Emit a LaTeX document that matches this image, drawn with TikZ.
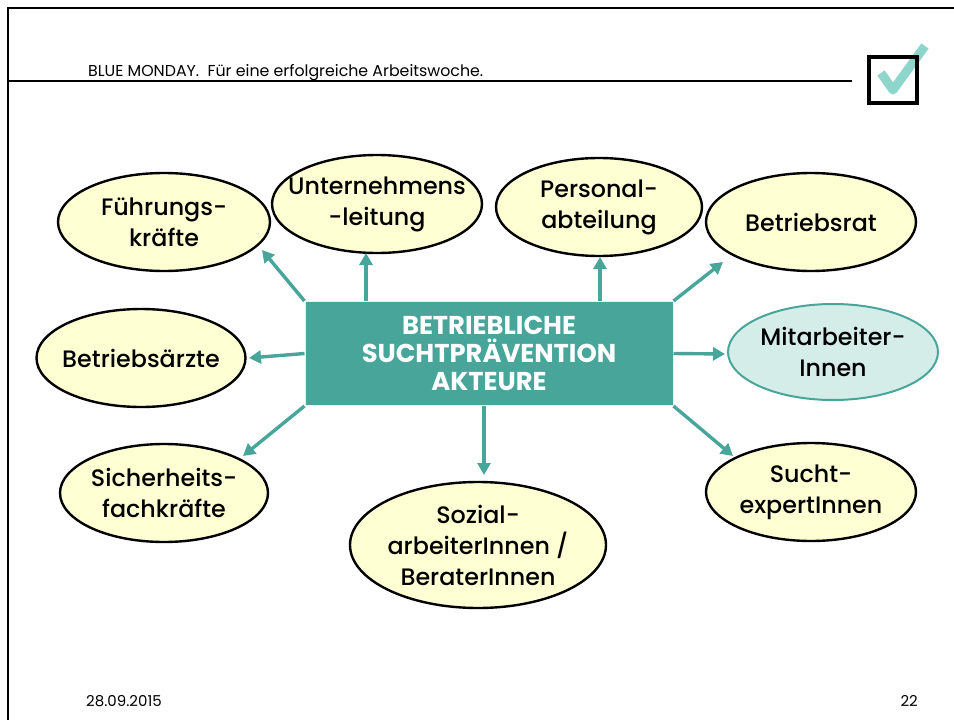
\documentclass[tikz,border=0pt]{standalone}
\usepackage{fontspec}
\setmainfont{Poppins}
\newfontfamily\medfont{Poppins Medium}
\usetikzlibrary{arrows.meta,shapes.geometric}
\definecolor{tealA}{HTML}{48A59A}
\definecolor{ellfill}{HTML}{FFFFD4}
\definecolor{mitfill}{HTML}{D4EDE9}
\definecolor{checkc}{HTML}{8ED5CB}
\tikzset{
  actor/.style={ellipse, draw=black, line width=2.4pt, fill=ellfill, inner sep=0pt},
  actortext/.style={inner sep=0pt, align=center, font=\medfont\fontsize{23.8}{31}\selectfont},
  arr/.style={draw=tealA, line width=3.4pt, -{Triangle[length=12pt,width=13pt]}},
  frameline/.style={draw=black, line width=2pt}
}
\begin{document}
\begin{tikzpicture}[x=1pt,y=-1pt]
\useasboundingbox (0,0) rectangle (954,720);
% frame
\draw[frameline] (8,720) -- (8,8) -- (954,8);
\draw[draw=black, line width=1.5pt] (8,81) -- (852,81);
\node[anchor=base west, inner sep=0pt, font=\fontsize{15.8}{18}\selectfont] (hdr) at (88,76) {BLUE MONDAY.\ \ Für eine erfolgreiche Arbeitswoche.};
% checkbox
\draw[checkc, line width=9pt, line join=round] (881,73) -- (893,90) -- (925,46);
\node[draw=black, line width=4pt, minimum width=48pt, minimum height=46pt, inner sep=0pt] (chk) at (893,80) {};
% footer
\node[anchor=base west, inner sep=0pt, font=\fontsize{15}{16}\selectfont] (date) at (86,706) {28.09.2015};
\node[anchor=base east, inner sep=0pt, font=\fontsize{15}{16}\selectfont] (page) at (918,706) {22};
% central box
\node[fill=tealA, draw=white!85!tealA, line width=1pt, minimum width=368pt, minimum height=104pt,
  inner sep=0pt, align=center, text=white, font=\bfseries\fontsize{25.8}{28}\selectfont] (box) at (489,353.5)
  {BETRIEBLICHE\\SUCHTPRÄVENTION\\AKTEURE};
% actors
\node[actor, minimum width=212pt, minimum height=98pt] (fk) at (164,222) {};
\node[actor, minimum width=210pt, minimum height=98pt] (ul) at (377,204) {};
\node[actor, minimum width=206pt, minimum height=98pt] (pa) at (599,207) {};
\node[actor, minimum width=210pt, minimum height=98pt] (br) at (811,222) {};
\node[actor, minimum width=209pt, minimum height=98pt] (ba) at (141,358) {};
\node[actor, draw=tealA, line width=2pt, fill=mitfill, minimum width=210pt, minimum height=96pt] (ma) at (833,352) {};
\node[actor, minimum width=208pt, minimum height=98pt] (sf) at (164,493) {};
\node[actor, minimum width=256pt, minimum height=126pt] (sa) at (478,545) {};
\node[actor, minimum width=210pt, minimum height=98pt] (se) at (811,492) {};
% actor texts
\node[actortext] (fk-t) at (fk) {Führungs-\\kräfte};
\node[actortext] (ul-t) at (ul) {Unternehmens\\-leitung};
\node[actortext] (pa-t) at (pa) {Personal-\\abteilung};
\node[actortext] (br-t) at (br) {Betriebsrat};
\node[actortext] (ba-t) at (ba) {Betriebsärzte};
\node[actortext] (ma-t) at (ma) {Mitarbeiter-\\Innen};
\node[actortext] (sf-t) at (sf) {Sicherheits-\\fachkräfte};
\node[actortext] (sa-t) at (sa) {Sozial-\\arbeiterInnen /\\BeraterInnen};
\node[actortext] (se-t) at (se) {Sucht-\\expertInnen};
% arrow tips
\coordinate (tfk) at (262,250);
\coordinate (tul) at (366,253);
\coordinate (tpa) at (600,257);
\coordinate (tbr) at (723,262);
\coordinate (tba) at (249,358);
\coordinate (tma) at (725,354);
\coordinate (tsf) at (243,456);
\coordinate (tsa) at (484,475);
\coordinate (tse) at (733,456);
% arrows
\draw[arr] (box.north west) -- (tfk);
\draw[arr] (box.north west -| tul) -- (tul);
\draw[arr] (box.north west -| tpa) -- (tpa);
\draw[arr] (box.north east) -- (tbr);
\draw[arr] (box.west) -- (tba);
\draw[arr] (box.east) -- (tma);
\draw[arr] (box.south west) -- (tsf);
\draw[arr] (box.south west -| tsa) -- (tsa);
\draw[arr] (box.south east) -- (tse);
\end{tikzpicture}
\end{document}
